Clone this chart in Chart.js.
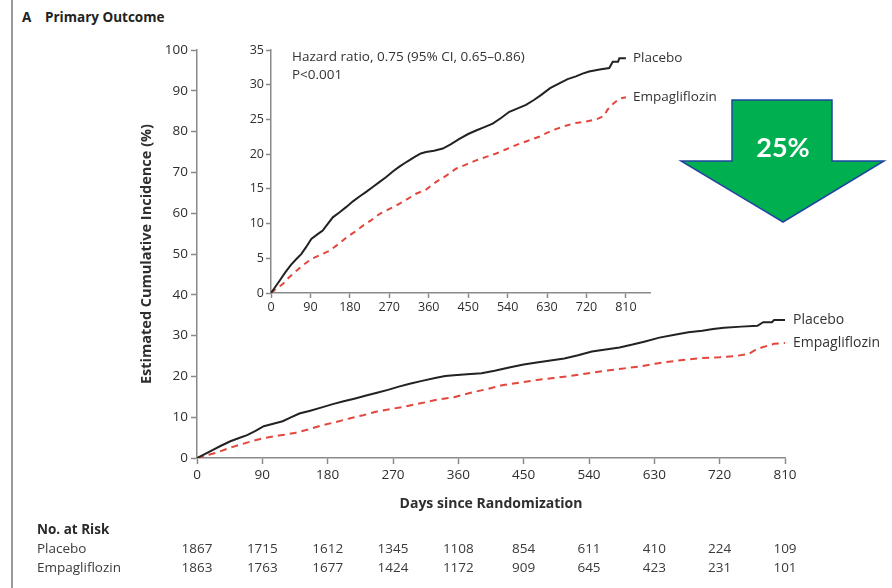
<!DOCTYPE html>
<html>
<head>
<meta charset="utf-8">
<script src="https://cdn.jsdelivr.net/npm/chart.js@4.4.1/dist/chart.umd.min.js"></script>
<style>
  body { margin: 0; width: 892px; height: 588px; overflow: hidden; position: relative; background: #fff;
         font-family: "Open Sans", sans-serif; color: #333; }
  canvas { position: absolute; }
  #main { left: 0; top: 0; }
  #inset { left: 230px; top: 40px; }
  .frame { position: absolute; left: 11px; top: 0; width: 2px; height: 588px; background: #9a9a9a; }
  .title { position: absolute; top: 8px; font-weight: bold; font-size: 13.5px; color: #222; }
  .hr { position: absolute; left: 292px; font-size: 13.5px; color: #333; white-space: nowrap; }
  svg { position: absolute; left: 0; top: 0; }
</style>
</head>
<body>
<div class="frame"></div>
<div class="title" style="left:22px">A</div>
<div class="title" style="left:45px">Primary Outcome</div>
<canvas id="main" width="892" height="588"></canvas>
<canvas id="inset" width="520" height="280"></canvas>
<div class="hr" style="top:47px">Hazard ratio, 0.75 (95% CI, 0.65–0.86)</div>
<div class="hr" style="top:65px">P&lt;0.001</div>
<svg width="892" height="588">
  <polygon points="732,100 832,100 832,161 884,161 783,222 681,161 732,161"
           fill="#00b050" stroke="#2145a0" stroke-width="1.5"/>
  <text x="783" y="157" text-anchor="middle" font-family="Lato, sans-serif" font-weight="bold"
        font-size="27" fill="#fff">25%</text>
</svg>

<script>
// Kaplan-Meier style curves (days, cumulative %)
const placeboDays = [0, 10, 20, 33, 46, 58, 69, 80, 92, 105, 118, 130, 141, 156, 172, 187, 202, 218, 233, 248,
  263, 278, 293, 310, 328, 342, 354, 372, 392, 410, 430, 450, 468, 487, 506, 525, 544, 563, 582, 600,
  616, 637, 658, 677, 696, 711, 726, 750, 772, 780, 792, 795, 810];
const placeboPct = [0, 0.9, 1.8, 3.0, 4.1, 4.9, 5.6, 6.6, 7.8, 8.4, 9.0, 10.0, 10.9, 11.6, 12.4, 13.2, 13.9, 14.6, 15.3, 16.0,
  16.7, 17.5, 18.2, 18.9, 19.6, 20.1, 20.3, 20.5, 20.8, 21.4, 22.2, 22.9, 23.4, 23.9, 24.4, 25.2, 26.1, 26.6, 27.1, 27.8,
  28.5, 29.5, 30.2, 30.8, 31.2, 31.6, 31.9, 32.2, 32.4, 33.3, 33.3, 33.8, 33.8];

const empaDays = [0, 12, 27, 42, 58, 75, 92, 113, 134, 153, 172, 191, 210, 229, 248, 267, 286, 308, 331, 354,
  377, 400, 422, 445, 468, 491, 514, 537, 559, 585, 612, 631, 650, 673, 696, 720, 742, 760, 768, 778, 795, 810];
const empaPct = [0, 0.6, 1.3, 2.3, 3.2, 4.1, 4.9, 5.5, 6.1, 7.0, 8.0, 8.8, 9.7, 10.5, 11.4, 12.0, 12.6, 13.4, 14.3, 14.9,
  16.0, 16.9, 17.9, 18.5, 19.1, 19.6, 20.1, 20.7, 21.3, 21.9, 22.5, 23.1, 23.6, 24.1, 24.5, 24.7, 25.0, 25.5, 26.4, 27.1, 28.0, 28.2];

const dayTicks = [0, 90, 180, 270, 360, 450, 540, 630, 720, 810];
const mainPctTicks = [0, 10, 20, 30, 40, 50, 60, 70, 80, 90, 100];
const insetPctTicks = [0, 5, 10, 15, 20, 25, 30, 35];

const riskDays = dayTicks;
const riskPlacebo = [1867, 1715, 1612, 1345, 1108, 854, 611, 410, 224, 109];
const riskEmpa = [1863, 1763, 1677, 1424, 1172, 909, 645, 423, 231, 101];

Chart.defaults.font.family = '"Open Sans", sans-serif';
Chart.defaults.color = '#2e2e2e';

const toXY = (xs, ys) => xs.map((x, i) => ({ x: x, y: ys[i] }));

function makeDatasets(dash) {
  return [{
    label: 'Placebo',
    data: toXY(placeboDays, placeboPct),
    borderColor: '#222',
    borderWidth: 2,
    pointRadius: 0
  }, {
    label: 'Empagliflozin',
    data: toXY(empaDays, empaPct),
    borderColor: '#e2463c',
    borderWidth: 2,
    borderDash: dash,
    pointRadius: 0
  }];
}

// name at the end of each curve
const endLabels = {
  id: 'endLabels',
  afterDatasetsDraw(chart, args, opts) {
    const ctx = chart.ctx;
    chart.data.datasets.forEach((ds, i) => {
      const pts = chart.getDatasetMeta(i).data;
      const last = pts[pts.length - 1];
      ctx.save();
      ctx.font = opts.size + 'px "Open Sans", sans-serif';
      ctx.fillStyle = '#333';
      ctx.textBaseline = 'middle';
      ctx.fillText(ds.label, last.x + opts.gap, last.y);
      ctx.restore();
    });
  }
};

// number at risk table under the main axis
const riskTable = {
  id: 'riskTable',
  afterDraw(chart) {
    const ctx = chart.ctx;
    const xs = chart.scales.x;
    ctx.save();
    ctx.textBaseline = 'middle';
    ctx.fillStyle = '#2a2a2a';
    ctx.font = 'bold 13.5px "Open Sans", sans-serif';
    ctx.fillText('No. at Risk', 37, 530);
    ctx.font = '13.5px "Open Sans", sans-serif';
    ctx.fillStyle = '#3a3a3a';
    ctx.fillText('Placebo', 37, 549);
    ctx.fillText('Empagliflozin', 37, 568);
    ctx.textAlign = 'center';
    riskDays.forEach((d, i) => {
      const px = xs.getPixelForValue(d);
      ctx.fillText(riskPlacebo[i], px, 549);
      ctx.fillText(riskEmpa[i], px, 568);
    });
    ctx.restore();
  }
};

function axis(extra, tick) {
  return Object.assign({
    type: 'linear',
    grid: { drawOnChartArea: false, drawTicks: true, tickLength: tick, tickColor: '#8a8a8a', tickWidth: 1.5 },
    border: { color: '#8a8a8a', width: 1.5 }
  }, extra);
}

new Chart(document.getElementById('main'), {
  type: 'line',
  data: { datasets: makeDatasets([7, 5]) },
  options: {
    responsive: false,
    animation: false,
    layout: { padding: { left: 138, top: 50, right: 107, bottom: 76 } },
    plugins: { legend: { display: false }, tooltip: { enabled: false }, endLabels: { gap: 8, size: 14 } },
    scales: {
      x: axis({
        min: 0, max: 810,
        afterBuildTicks: s => { s.ticks = dayTicks.map(v => ({ value: v })); },
        afterFit: s => { s.height = 54; },
        ticks: { font: { size: 13.5 }, padding: 3, maxRotation: 0 },
        title: { display: true, text: 'Days since Randomization', font: { size: 14, weight: 'bold' }, padding: 0 }
      }, 6),
      y: axis({
        min: 0, max: 100,
        afterBuildTicks: s => { s.ticks = mainPctTicks.map(v => ({ value: v })); },
        afterFit: s => { s.width = 59; },
        ticks: { font: { size: 13.5 }, padding: 3 },
        title: { display: true, text: 'Estimated Cumulative Incidence (%)', font: { size: 14.5, weight: 'bold' }, padding: 0 }
      }, 6)
    }
  },
  plugins: [endLabels, riskTable]
});

new Chart(document.getElementById('inset'), {
  type: 'line',
  data: { datasets: makeDatasets([6, 5]) },
  options: {
    responsive: false,
    animation: false,
    layout: { padding: { left: 0, top: 10, right: 100, bottom: 0 } },
    plugins: { legend: { display: false }, tooltip: { enabled: false }, endLabels: { gap: 7, size: 13.5 } },
    scales: {
      x: axis({
        min: 0, max: 865,
        afterBuildTicks: s => { s.ticks = dayTicks.map(v => ({ value: v })); },
        afterFit: s => { s.height = 27; },
        ticks: { font: { size: 12.5 }, padding: 2, maxRotation: 0 }
      }, 5),
      y: axis({
        min: 0, max: 35,
        afterBuildTicks: s => { s.ticks = insetPctTicks.map(v => ({ value: v })); },
        afterFit: s => { s.width = 41; },
        ticks: { font: { size: 12.5 }, padding: 2 }
      }, 5)
    }
  },
  plugins: [endLabels]
});
</script>
</body>
</html>
